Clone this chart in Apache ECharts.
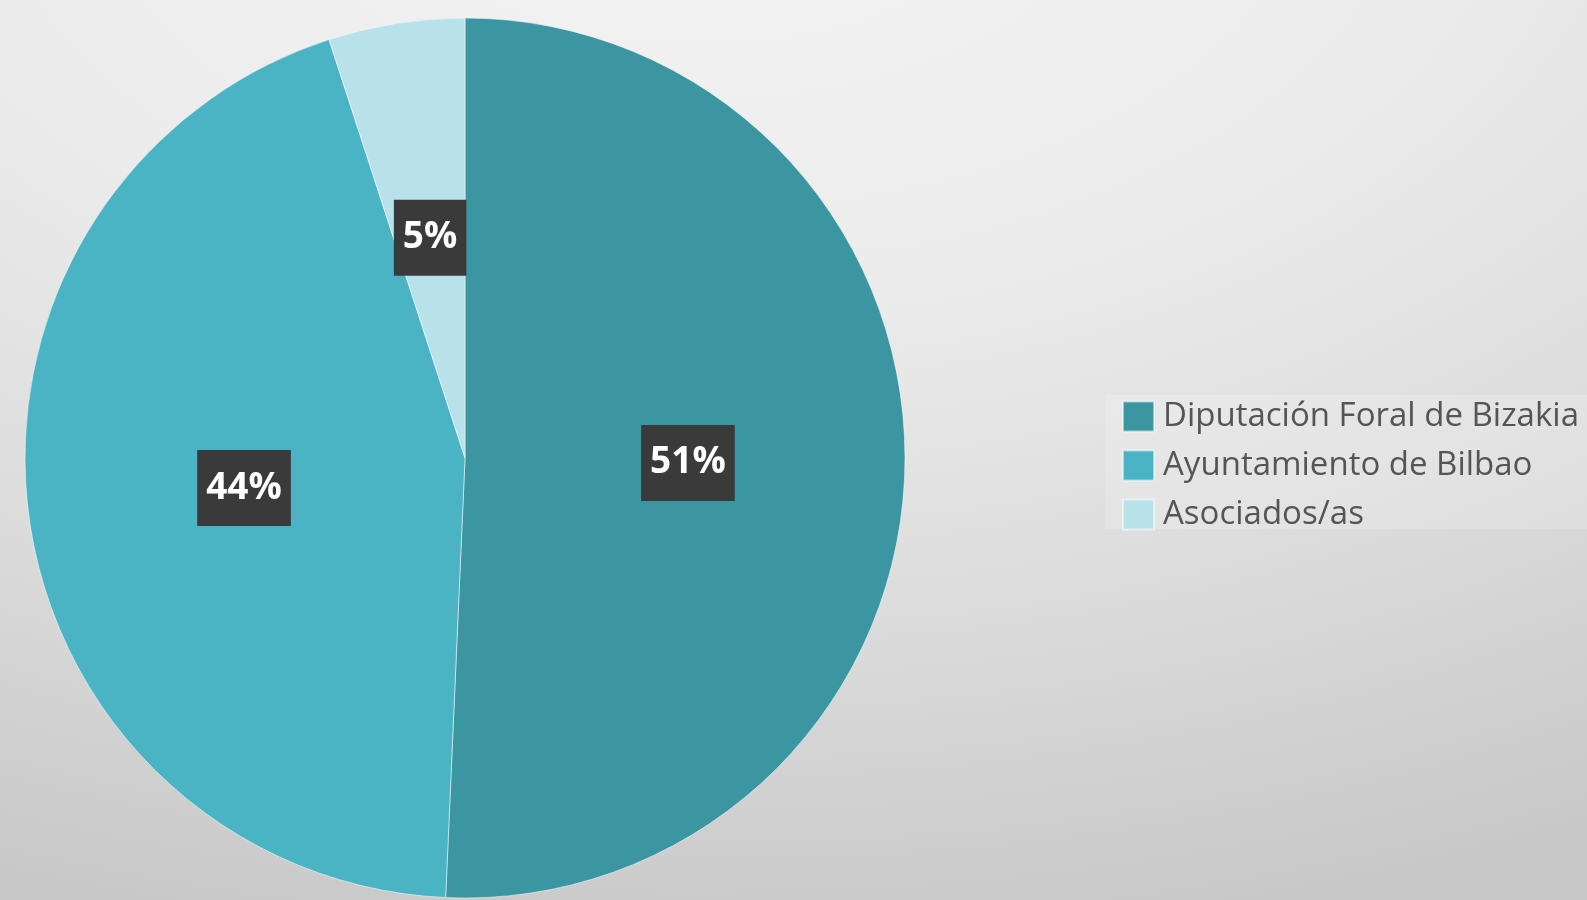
<!DOCTYPE html>
<html>
<head>
<meta charset="utf-8">
<script src="https://cdn.jsdelivr.net/npm/echarts@6/dist/echarts.min.js"></script>
<style>
  html, body { margin: 0; padding: 0; }
  #chart {
    width: 1587px; height: 900px;
    background: radial-gradient(ellipse 1900px 1100px at 700px -150px, #f4f4f4 0%, #ececec 40%, #dcdcdc 70%, #c8c8c8 100%);
  }
</style>
</head>
<body>
<div id="chart"></div>
<script>
const categories = ['Diputación Foral de Bizakia', 'Ayuntamiento de Bilbao', 'Asociados/as'];
const values = [50.7, 44.3, 5.0];
const colors = ['#3b96a2', '#4ab4c4', '#b8e1ea'];

const chart = echarts.init(document.getElementById('chart'), null, { renderer: 'canvas' });
chart.setOption({
  animation: false,
  backgroundColor: 'transparent',
  color: colors,
  graphic: [{
    type: 'rect', silent: true, z: 0,
    shape: { x: 1105, y: 395, width: 482, height: 134 },
    style: { fill: 'rgba(255,255,255,0.18)' }
  }],
  legend: {
    orient: 'vertical',
    left: 1122,
    top: 400,
    padding: 0,
    icon: 'rect',
    itemWidth: 31,
    itemHeight: 30,
    itemGap: 16,
    selectedMode: false,
    textStyle: {
      fontFamily: 'Open Sans',
      fontSize: 33,
      color: '#555555',
      lineHeight: 33,
      padding: [0, 0, 0, 4]
    },
    data: categories
  },
  series: [{
    type: 'pie',
    center: [465, 458],
    radius: 440,
    startAngle: 90,
    clockwise: true,
    silent: true,
    emphasis: { disabled: true },
    itemStyle: { borderColor: 'rgba(255,255,255,0.5)', borderWidth: 1 },
    label: {
      show: true,
      position: 'inside',
      formatter: p => Math.round(p.percent) + '%',
      fontFamily: 'Open Sans',
      fontWeight: 'bold',
      fontSize: 37,
      lineHeight: 40,
      color: '#ffffff',
      backgroundColor: '#3a3a3a',
      padding: [18, 9]
    },
    labelLine: { show: false },
    data: categories.map((c, i) => ({ name: c, value: values[i] }))
  }]
});
</script>
</body>
</html>
